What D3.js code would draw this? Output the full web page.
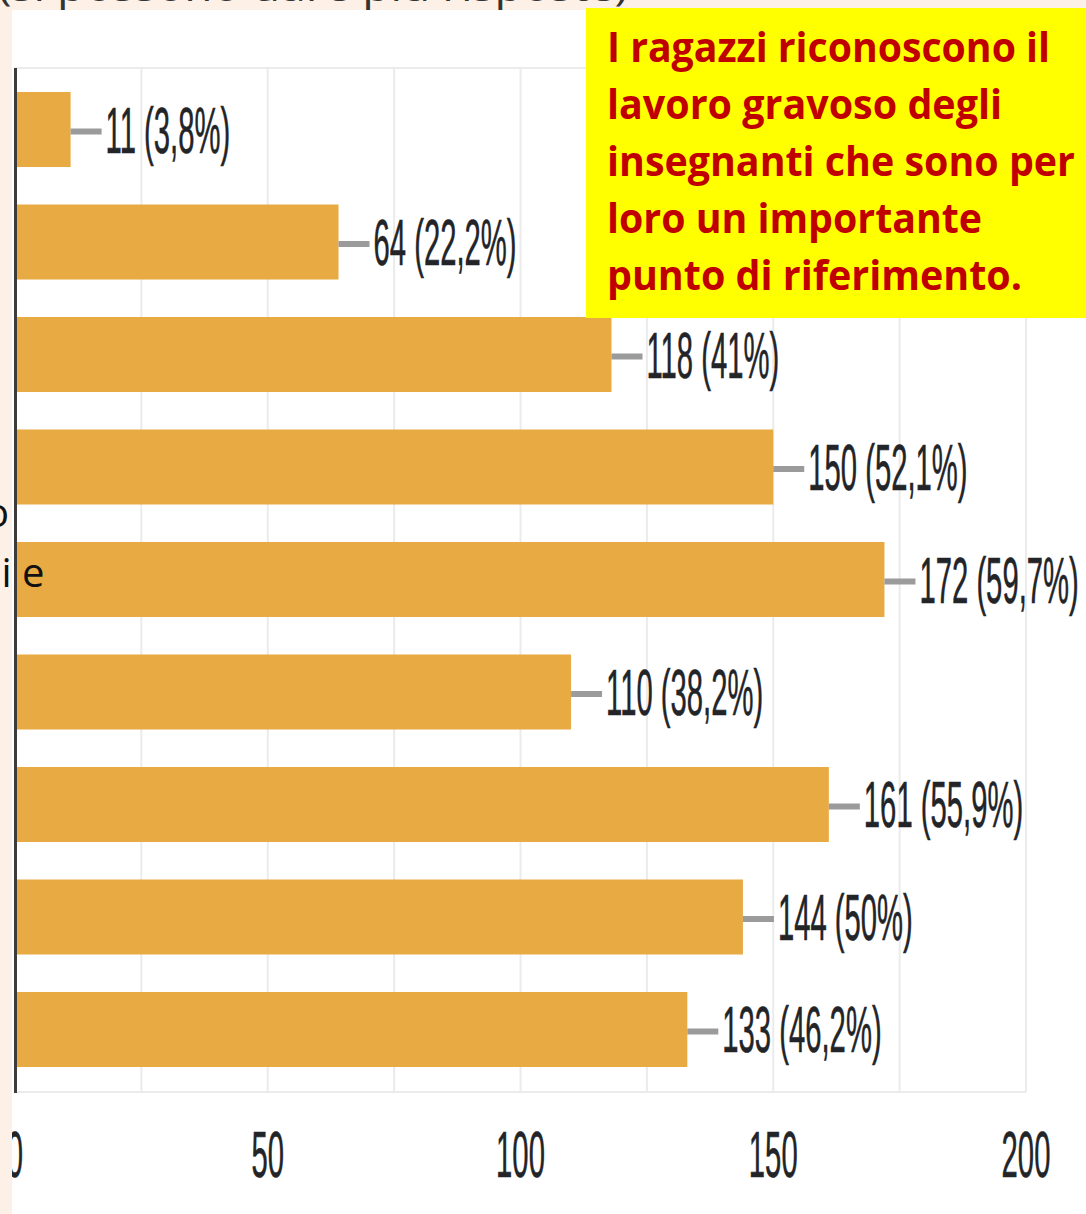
<!DOCTYPE html>
<html>
<head>
<meta charset="utf-8">
<script src="https://cdn.jsdelivr.net/npm/d3@7"></script>
<style>
  html, body { margin: 0; padding: 0; background: #ffffff; }
  svg { display: block; }
</style>
</head>
<body>
<svg id="chart" width="1086" height="1214"></svg>
<script>
// ---- data ----
const categories = ["c1", "c2", "c3", "c4", "c5", "c6", "c7", "c8", "c9"];
const values = [11, 64, 118, 150, 172, 110, 161, 144, 133];
const percents = ["3,8%", "22,2%", "41%", "52,1%", "59,7%", "38,2%", "55,9%", "50%", "46,2%"];
const tickValues = [0, 50, 100, 150, 200];
const gridValues = [0, 25, 50, 75, 100, 125, 150, 175, 200];
const noteLines = [
  "I ragazzi riconoscono il",
  "lavoro gravoso degli",
  "insegnanti che sono per",
  "loro un importante",
  "punto di riferimento."
];
const noteWidths = [443, 395, 468, 375, 415];
const topFragment = "(si possono dare più risposte)";
const leftFragments = ["o", "i e"];

// ---- layout ----
const W = 1086, H = 1214;
const svg = d3.select("#chart");

const x = d3.scaleLinear().domain([0, 200]).range([15, 1026]);
const y = d3.scaleBand().domain(categories).range([73.25, 1085.75])
  .paddingInner(0.3333).paddingOuter(0.1667);

const plotTop = 68, plotBottom = 1092;

// background white
svg.append("rect").attr("x", 0).attr("y", 0).attr("width", W).attr("height", H).attr("fill", "#ffffff");

// grid
const grid = svg.append("g");
grid.selectAll("line.v").data(gridValues).enter().append("line")
  .attr("x1", d => x(d)).attr("x2", d => x(d))
  .attr("y1", plotTop).attr("y2", plotBottom)
  .attr("stroke", "#ebebeb").attr("stroke-width", 2);
grid.append("line").attr("x1", x(0)).attr("x2", x(200)).attr("y1", plotTop).attr("y2", plotTop)
  .attr("stroke", "#ebebeb").attr("stroke-width", 2);
grid.append("line").attr("x1", x(0)).attr("x2", x(200)).attr("y1", plotBottom).attr("y2", plotBottom)
  .attr("stroke", "#ebebeb").attr("stroke-width", 2);

// bars
svg.append("g").selectAll("rect").data(values).enter().append("rect")
  .attr("x", x(0))
  .attr("y", (d, i) => y(categories[i]))
  .attr("width", d => x(d) - x(0))
  .attr("height", y.bandwidth())
  .attr("fill", "#E8AA42");

// leader lines + labels
const lbl = svg.append("g");
values.forEach((v, i) => {
  const cy = y(categories[i]) + y.bandwidth() / 2;
  const xe = x(v);
  lbl.append("line")
    .attr("x1", xe).attr("x2", xe + 31)
    .attr("y1", cy + 2).attr("y2", cy + 2)
    .attr("stroke", "#9b9b9b").attr("stroke-width", 6);
  lbl.append("text")
    .attr("transform", `translate(${xe + 35},${cy + 23}) scale(0.45,1)`)
    .attr("font-family", "'Liberation Sans', Arial, sans-serif")
    .attr("font-size", 65)
    .attr("fill", "#222428")
    .attr("stroke", "#222428").attr("stroke-width", 0.6)
    .text(`${v} (${percents[i]})`);
});

// x tick labels
svg.append("g").selectAll("text").data(tickValues).enter().append("text")
  .attr("transform", d => `translate(${x(d)},1177) scale(0.45,1)`)
  .attr("text-anchor", "middle")
  .attr("font-family", "'Liberation Sans', Arial, sans-serif")
  .attr("font-size", 65)
  .attr("fill", "#222428")
  .attr("stroke", "#222428").attr("stroke-width", 0.6)
  .text(d => d);

// axis line
svg.append("line").attr("x1", 15.5).attr("x2", 15.5).attr("y1", plotTop).attr("y2", plotBottom + 1)
  .attr("stroke", "#3c3c3c").attr("stroke-width", 3);

// pink slide background strips
svg.append("rect").attr("x", 0).attr("y", 0).attr("width", 12).attr("height", H).attr("fill", "#fdf0e7");
svg.append("rect").attr("x", 0).attr("y", 0).attr("width", W).attr("height", 10).attr("fill", "#fdf0e7");

// clipped top text fragment (only the bottoms of the glyphs show)
svg.append("clipPath").attr("id", "topclip").append("rect")
  .attr("x", 0).attr("y", 0).attr("width", 640).attr("height", 10);
svg.append("text")
  .attr("clip-path", "url(#topclip)")
  .attr("x", -2).attr("y", 1.2)
  .attr("font-family", "'Open Sans', sans-serif")
  .attr("font-size", 38)
  .attr("fill", "#333")
  .attr("textLength", 630).attr("lengthAdjust", "spacingAndGlyphs")
  .text(topFragment);

// left slide text fragments
svg.append("text").attr("x", 9).attr("y", 527).attr("text-anchor", "end")
  .attr("font-family", "'Open Sans', sans-serif").attr("font-size", 40).attr("fill", "#111")
  .text(leftFragments[0]);
svg.append("text").attr("x", 1.5).attr("y", 587)
  .attr("font-family", "'Open Sans', sans-serif").attr("font-size", 40).attr("fill", "#111")
  .text(leftFragments[1]);

// yellow annotation box
svg.append("rect").attr("x", 586).attr("y", 8).attr("width", 500).attr("height", 310).attr("fill", "#FFFF00");
svg.append("g").selectAll("text").data(noteLines).enter().append("text")
  .attr("x", 607)
  .attr("y", (d, i) => 62 + i * 57)
  .attr("font-family", "'Open Sans', sans-serif")
  .attr("font-weight", 700)
  .attr("font-size", 41)
  .attr("fill", "#C00000")
  .attr("textLength", (d, i) => noteWidths[i])
  .attr("lengthAdjust", "spacingAndGlyphs")
  .text(d => d);
</script>
</body>
</html>
